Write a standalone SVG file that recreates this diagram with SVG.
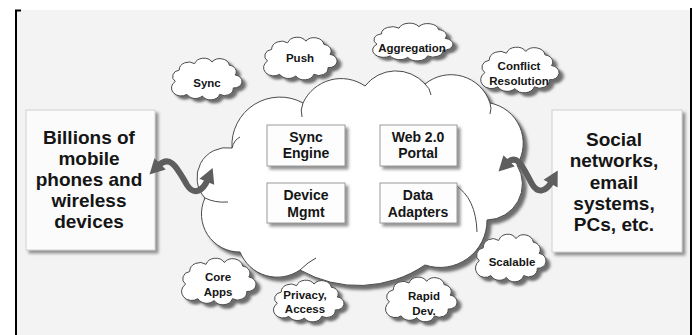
<svg xmlns="http://www.w3.org/2000/svg" xmlns:xlink="http://www.w3.org/1999/xlink" width="697" height="335" viewBox="0 0 697 335">
<style>
  text { font-family: "Liberation Sans", Arial, sans-serif; font-weight: bold; fill: #151515; text-anchor: middle; }
  .big { font-size: 19px; }
  .mid { font-size: 14px; }
  .sm { font-size: 11.5px; }
  .scl { fill: #ffffff; stroke: #4a4a4a; stroke-width: 1; }
  .bigbox { fill: #fbfbfb; stroke: #d0d0d0; stroke-width: 1; }
  .inbox { fill: #fdfdfd; stroke: #9a9a9a; stroke-width: 1; }
  .inner { fill: none; stroke: #4a4a4a; stroke-width: 1; }
  .arrow { fill: none; stroke: #5e5e5e; stroke-width: 6; stroke-linecap: round; }
</style>
<defs>
  <filter id="sh" x="-20%" y="-20%" width="150%" height="150%">
    <feDropShadow dx="4" dy="4" stdDeviation="1.4" flood-color="#555" flood-opacity="0.85"/>
  </filter>
  <filter id="shb" x="-10%" y="-10%" width="130%" height="130%">
    <feDropShadow dx="3" dy="3" stdDeviation="1.5" flood-color="#777" flood-opacity="0.8"/>
  </filter>
  <path id="sc" class="scl" vector-effect="non-scaling-stroke" d="M10,30 a8,8 0 0 1 4,-14 a10,10 0 0 1 16,-8 a10,10 0 0 1 18,-2 a10,10 0 0 1 18,4 a8,8 0 0 1 6,12 a8,8 0 0 1 -2,16 a9,9 0 0 1 -14,8 a10,10 0 0 1 -18,2 a10,10 0 0 1 -16,-2 a10,10 0 0 1 -12,-16 z"/>
  <marker id="ah" viewBox="-1 -9 17 18" refX="3" refY="0" markerWidth="17" markerHeight="18" markerUnits="userSpaceOnUse" orient="auto-start-reverse">
    <path d="M0,-8 L15,0 L0,8 z" fill="#5e5e5e"/>
  </marker>
</defs>

<rect x="0" y="0" width="697" height="335" fill="#ffffff"/>
<rect x="17" y="10" width="673" height="325" fill="#f3f3f3"/>
<path d="M16,335 V10.5 H21" fill="none" stroke="#000" stroke-width="2"/>
<line x1="691" y1="8" x2="691" y2="335" stroke="#000" stroke-width="2"/>

<g id="left-box">
  <rect class="bigbox" x="26" y="110" width="129" height="140" filter="url(#shb)"/>
  <text class="big" x="89" y="144">Billions of</text>
  <text class="big" x="89" y="165">mobile</text>
  <text class="big" x="89" y="186">phones and</text>
  <text class="big" x="89" y="207">wireless</text>
  <text class="big" x="89" y="228">devices</text>
</g>

<g id="right-box">
  <rect class="bigbox" x="552" y="110" width="130" height="142" filter="url(#shb)"/>
  <text class="big" x="614" y="146">Social</text>
  <text class="big" x="614" y="167">networks,</text>
  <text class="big" x="614" y="189">email</text>
  <text class="big" x="614" y="210">systems,</text>
  <text class="big" x="614" y="231">PCs, etc.</text>
</g>

<g id="main-cloud">
  <path class="scl" filter="url(#sh)" d="M205,198 A30,30 0 0 1 232,148 A48,48 0 0 1 303,103 A42,42 0 0 1 365,86 A39,39 0 0 1 425,84 A41,41 0 0 1 490,103 A41,41 0 0 1 517,165 A36,36 0 0 1 487,220 A47,47 0 0 1 425,265 A118,118 0 0 1 300,270 A40,40 0 0 1 240,252 A38,38 0 0 1 205,198 Z"/>
  <path class="inner" d="M205,198 Q215,203 228,202"/>
  <path class="inner" d="M303,103 Q300,110 302,117"/>
  <path class="inner" d="M425,84 Q430,88 431,95"/>
  <path class="inner" d="M490,103 Q492,108 490,114"/>
  <path class="inner" d="M455,185 Q476,198 477,232"/>
  <path class="inner" d="M300,270 Q308,262 316,258"/>
  <path class="inner" d="M232,148 Q234,140 240,137"/>
</g>

<g id="sync-engine">
  <rect class="inbox" x="267" y="125" width="78" height="41" filter="url(#shb)"/>
  <text class="mid" x="306" y="142">Sync</text>
  <text class="mid" x="306" y="158">Engine</text>
</g>
<g id="web-portal">
  <rect class="inbox" x="380" y="125" width="77" height="41" filter="url(#shb)"/>
  <text class="mid" x="418" y="142">Web 2.0</text>
  <text class="mid" x="418" y="158">Portal</text>
</g>
<g id="device-mgmt">
  <rect class="inbox" x="267" y="183" width="78" height="40" filter="url(#shb)"/>
  <text class="mid" x="306" y="200">Device</text>
  <text class="mid" x="306" y="217">Mgmt</text>
</g>
<g id="data-adapters">
  <rect class="inbox" x="380" y="183" width="77" height="40" filter="url(#shb)"/>
  <text class="mid" x="418" y="200">Data</text>
  <text class="mid" x="418" y="217">Adapters</text>
</g>

<g id="cloud-sync">
  <use href="#sc" filter="url(#sh)" transform="translate(165.65,57.2) scale(0.966,0.808)"/>
  <text class="sm" x="207" y="87">Sync</text>
</g>
<g id="cloud-push">
  <use href="#sc" filter="url(#sh)" transform="translate(257.5,36.2) scale(1.007,0.827)"/>
  <text class="sm" x="300" y="62">Push</text>
</g>
<g id="cloud-aggregation">
  <use href="#sc" filter="url(#sh)" transform="translate(366,22.3) scale(1.1,0.731)"/>
  <text class="sm" x="412" y="52">Aggregation</text>
</g>
<g id="cloud-conflict">
  <use href="#sc" filter="url(#sh)" transform="translate(474.2,46.1) scale(1.074,0.885)"/>
  <text class="sm" x="519" y="70">Conflict</text>
  <text class="sm" x="519" y="85">Resolution</text>
</g>
<g id="cloud-scalable">
  <use href="#sc" filter="url(#sh)" transform="translate(469.65,233.1) scale(0.966,0.923)"/>
  <text class="sm" x="512" y="266">Scalable</text>
</g>
<g id="cloud-rapid">
  <use href="#sc" filter="url(#sh)" transform="translate(379.6,276.1) scale(0.98,0.865)"/>
  <text class="sm" x="424" y="300">Rapid</text>
  <text class="sm" x="424" y="315">Dev.</text>
</g>
<g id="cloud-core">
  <use href="#sc" filter="url(#sh)" transform="translate(175.4,257.1) scale(1.02,0.904)"/>
  <text class="sm" x="218" y="281">Core</text>
  <text class="sm" x="218" y="296">Apps</text>
</g>
<g id="cloud-privacy">
  <use href="#sc" filter="url(#sh)" transform="translate(267.65,279.2) scale(0.966,0.808)"/>
  <text class="sm" x="305" y="299">Privacy,</text>
  <text class="sm" x="305" y="313">Access</text>
</g>

<g id="connectors">
  <path class="arrow" marker-start="url(#ah)" marker-end="url(#ah)" d="M158,166 C171,153 178,170 187,185 C194,196 203,191 208,179"/>
  <path class="arrow" marker-start="url(#ah)" marker-end="url(#ah)" d="M507,163 C518,152 524,170 532,184 C538,194 546,192 552,181"/>
</g>
</svg>
